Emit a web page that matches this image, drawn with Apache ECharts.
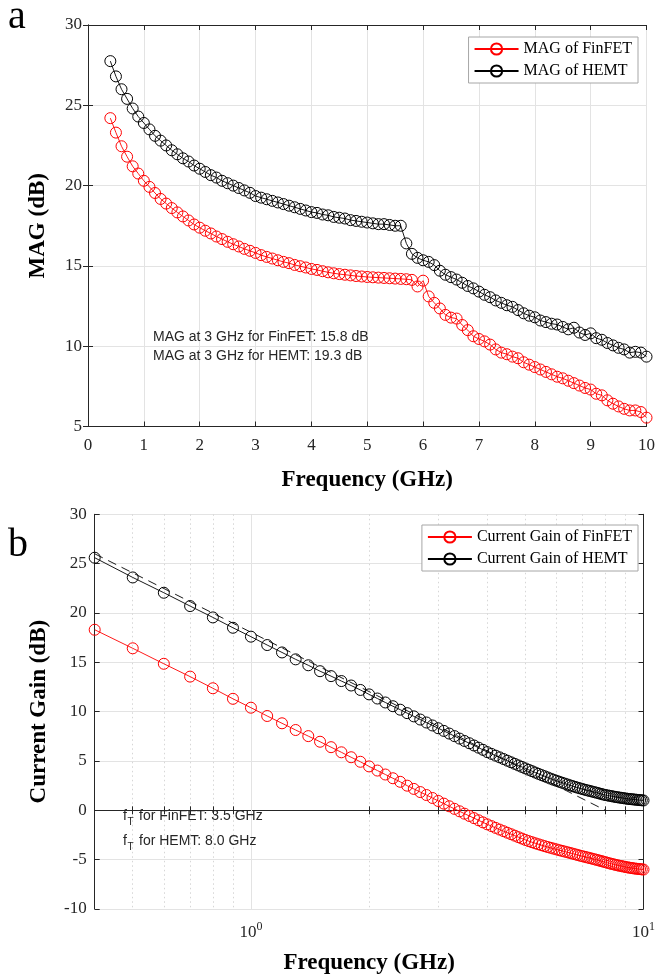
<!DOCTYPE html>
<html>
<head>
<meta charset="utf-8">
<script src="https://cdn.jsdelivr.net/npm/echarts@6/dist/echarts.min.js"></script>
<style>
html,body{margin:0;padding:0;background:#fff;}
#chart{width:658px;height:979px;}
</style>
</head>
<body>
<div id="chart"></div>
<script>
// Frequencies (GHz)
const freq = [
  0.4,0.5,0.6,0.7,0.8,0.9,1.0,1.1,1.2,1.3,
  1.4,1.5,1.6,1.7,1.8,1.9,2.0,2.1,2.2,2.3,
  2.4,2.5,2.6,2.7,2.8,2.9,3.0,3.1,3.2,3.3,
  3.4,3.5,3.6,3.7,3.8,3.9,4.0,4.1,4.2,4.3,
  4.4,4.5,4.6,4.7,4.8,4.9,5.0,5.1,5.2,5.3,
  5.4,5.5,5.6,5.7,5.8,5.9,6.0,6.1,6.2,6.3,
  6.4,6.5,6.6,6.7,6.8,6.9,7.0,7.1,7.2,7.3,
  7.4,7.5,7.6,7.7,7.8,7.9,8.0,8.1,8.2,8.3,
  8.4,8.5,8.6,8.7,8.8,8.9,9.0,9.1,9.2,9.3,
  9.4,9.5,9.6,9.7,9.8,9.9,10.0
];
// MAG (dB)
const magFinFET = [
  24.2,23.3,22.45,21.8,21.2,20.75,20.3,19.92,19.54,19.17,
  18.88,18.6,18.33,18.08,17.83,17.58,17.38,17.19,17.02,16.83,
  16.67,16.5,16.35,16.21,16.06,15.94,15.81,15.67,15.56,15.46,
  15.35,15.25,15.17,15.06,14.98,14.9,14.81,14.75,14.67,14.6,
  14.54,14.49,14.45,14.41,14.37,14.34,14.31,14.29,14.27,14.25,
  14.23,14.21,14.19,14.17,14.13,13.72,14.08,13.1,12.7,12.35,
  11.95,11.78,11.72,11.32,11.0,10.62,10.45,10.3,10.1,9.8,
  9.6,9.5,9.35,9.25,9.0,8.85,8.7,8.55,8.4,8.25,
  8.1,8.0,7.85,7.7,7.55,7.4,7.3,7.04,6.94,6.63,
  6.42,6.25,6.1,6.0,6.0,5.9,5.55
];
const magHEMT = [
  27.75,26.8,26.0,25.4,24.8,24.3,23.9,23.5,23.1,22.8,
  22.5,22.2,21.95,21.7,21.5,21.25,21.05,20.85,20.65,20.5,
  20.3,20.15,20.0,19.85,19.7,19.55,19.35,19.25,19.15,19.05,
  18.95,18.85,18.75,18.65,18.55,18.45,18.35,18.3,18.2,18.15,
  18.05,18.0,17.95,17.85,17.8,17.75,17.7,17.65,17.6,17.6,
  17.55,17.5,17.5,16.4,15.75,15.5,15.35,15.25,15.05,14.7,
  14.45,14.3,14.15,13.95,13.75,13.6,13.4,13.2,13.05,12.85,
  12.7,12.55,12.45,12.25,12.05,11.9,11.8,11.6,11.5,11.4,
  11.35,11.2,11.05,11.15,10.85,10.7,10.8,10.5,10.4,10.2,
  10.05,9.9,9.8,9.6,9.65,9.6,9.35
];
// Current gain (dB)
const cgFinFET = [
  18.3,16.42,14.85,13.55,12.37,11.3,10.4,9.56,8.82,8.14,
  7.52,6.95,6.4,5.88,5.38,4.92,4.45,4.03,3.63,3.25,
  2.89,2.5,2.17,1.85,1.55,1.25,0.95,0.68,0.41,0.15,
  -0.1,-0.34,-0.57,-0.79,-1.01,-1.22,-1.42,-1.6,-1.78,-1.95,
  -2.11,-2.27,-2.42,-2.57,-2.72,-2.86,-3.0,-3.12,-3.23,-3.34,
  -3.44,-3.54,-3.63,-3.72,-3.8,-3.88,-3.96,-4.04,-4.11,-4.18,
  -4.25,-4.32,-4.39,-4.46,-4.53,-4.6,-4.66,-4.72,-4.78,-4.84,
  -4.9,-4.96,-5.02,-5.08,-5.14,-5.2,-5.26,-5.32,-5.38,-5.43,
  -5.48,-5.53,-5.58,-5.62,-5.66,-5.7,-5.74,-5.78,-5.81,-5.84,
  -5.87,-5.9,-5.92,-5.94,-5.96,-5.98,-6.0
];
const cgHEMT = [
  25.6,23.6,22.05,20.7,19.55,18.5,17.6,16.75,16.0,15.3,
  14.7,14.1,13.6,13.1,12.65,12.2,11.75,11.33,10.93,10.55,
  10.2,9.85,9.52,9.2,8.9,8.6,8.32,8.05,7.78,7.52,
  7.27,7.03,6.8,6.57,6.35,6.13,5.9,5.72,5.54,5.37,
  5.2,5.03,4.87,4.71,4.55,4.4,4.25,4.11,3.97,3.83,
  3.7,3.57,3.45,3.33,3.21,3.1,3.0,2.9,2.8,2.71,
  2.62,2.53,2.45,2.37,2.29,2.22,2.15,2.08,2.02,1.96,
  1.9,1.84,1.78,1.72,1.66,1.6,1.55,1.51,1.47,1.43,
  1.39,1.35,1.32,1.29,1.26,1.23,1.2,1.17,1.15,1.13,
  1.11,1.09,1.07,1.05,1.03,1.02,1.0
];
// -20 dB/decade reference line for HEMT
const fitFreq = [0.4, 8.0];
const fitGain = [26.0, 0.0];
// log axis ticks
const logLabelTicks = [1, 10];
const logTicks = [0.5,0.6,0.7,0.8,0.9,1,2,3,4,5,6,7,8,9];

const SERIF = '"Liberation Serif","Times New Roman",serif';
const SANS = '"Liberation Sans",Arial,sans-serif';
const AX = '#262626';
const GRIDC = '#e3e3e3';

const pairs = (xs, ys) => xs.map((x, i) => [x, ys[i]]);

function baseAxis(extra) {
  return Object.assign({
    axisLine: {show: true, lineStyle: {color: AX, width: 1}},
    axisTick: {show: true, inside: true, length: 5, lineStyle: {color: AX, width: 1}},
    axisLabel: {show: false},
    splitLine: {show: false}
  }, extra);
}
const labelStyle = {show: true, fontFamily: SERIF, fontSize: 17, color: AX};
const nameStyle = {fontFamily: SERIF, fontWeight: 'bold', fontSize: 23, color: '#000'};

function markerSeries(name, data, color, xi, yi) {
  return {
    name: name, type: 'line', xAxisIndex: xi, yAxisIndex: yi,
    data: data, symbol: 'circle', symbolSize: 11, clip: false,
    lineStyle: {color: color, width: 0.9},
    itemStyle: {color: 'rgba(255,255,255,0)', borderColor: color, borderWidth: 1},
    emphasis: {disabled: true}
  };
}
function annot(x, y, text) {
  return {type: 'text', x: x, y: y, z: 10, style: {text: text, fontFamily: SANS, fontSize: 14, fill: '#262626', verticalAlign: 'middle'}};
}

const chart = echarts.init(document.getElementById('chart'), null, {renderer: 'canvas'});
const option = {
  animation: false,
  backgroundColor: '#fff',
  grid: [
    {left: 88, top: 25, width: 562, height: 401.5},
    {left: 94.7, top: 514.3, width: 554.6, height: 394.7}
  ],
  xAxis: [
    baseAxis({gridIndex: 0, type: 'value', min: 0, max: 10, interval: 1, position: 'bottom',
      axisLabel: Object.assign({margin: 11}, labelStyle),
      splitLine: {show: true, lineStyle: {color: GRIDC, width: 1}},
      name: 'Frequency (GHz)', nameLocation: 'middle', nameGap: 42, nameTextStyle: nameStyle}),
    baseAxis({gridIndex: 0, type: 'value', min: 0, max: 10, interval: 1, position: 'top'}),
    baseAxis({gridIndex: 1, type: 'log', logBase: 10, min: 0.4, max: 10, position: 'bottom',
      axisTick: {show: true, inside: true, length: 4, customValues: logTicks, lineStyle: {color: AX, width: 1}},
      axisLabel: Object.assign({}, labelStyle, {margin: 12, customValues: logLabelTicks,
        formatter: function (v) { return '10{s|' + Math.round(Math.log10(v)) + '}'; },
        rich: {s: {fontFamily: SERIF, fontSize: 12, color: AX, padding: [0, 0, 12, 0]}}}),
      splitLine: {show: true, lineStyle: {color: '#d6d6d6', width: 1, type: [1.5, 3]}},
      name: 'Frequency (GHz)', nameLocation: 'middle', nameGap: 43, nameTextStyle: nameStyle}),
    baseAxis({gridIndex: 1, type: 'log', logBase: 10, min: 0.4, max: 10, position: 'top',
      axisTick: {show: true, inside: true, length: 4, customValues: logTicks, lineStyle: {color: AX, width: 1}}})
  ],
  yAxis: [
    baseAxis({gridIndex: 0, type: 'value', min: 5, max: 30, interval: 5, position: 'left',
      axisLabel: Object.assign({margin: 6}, labelStyle),
      splitLine: {show: true, lineStyle: {color: GRIDC, width: 1}},
      name: 'MAG (dB)', nameLocation: 'middle', nameGap: 38, nameTextStyle: nameStyle}),
    baseAxis({gridIndex: 0, type: 'value', min: 5, max: 30, interval: 5, position: 'right'}),
    baseAxis({gridIndex: 1, type: 'value', min: -10, max: 30, interval: 5, position: 'left',
      axisLabel: Object.assign({margin: 8}, labelStyle),
      splitLine: {show: true, lineStyle: {color: GRIDC, width: 1}},
      name: 'Current Gain (dB)', nameLocation: 'middle', nameGap: 44, nameTextStyle: nameStyle}),
    baseAxis({gridIndex: 1, type: 'value', min: -10, max: 30, interval: 5, position: 'right'})
  ],
  legend: [
    {data: ['MAG of FinFET', 'MAG of HEMT'], orient: 'vertical', right: 20, top: 37,
      itemWidth: 44, itemHeight: 14, itemGap: 6, padding: [4, 6, 4, 5],
      backgroundColor: '#fff', borderColor: '#a6a6a6', borderWidth: 1, borderRadius: 0,
      textStyle: {fontFamily: SERIF, fontSize: 16, color: '#000'}},
    {data: ['Current Gain of FinFET', 'Current Gain of HEMT'], orient: 'vertical', right: 20, top: 525,
      itemWidth: 44, itemHeight: 14, itemGap: 6, padding: [4, 6, 4, 5],
      backgroundColor: '#fff', borderColor: '#a6a6a6', borderWidth: 1, borderRadius: 0,
      textStyle: {fontFamily: SERIF, fontSize: 16, color: '#000'}}
  ],
  series: [
    markerSeries('MAG of FinFET', pairs(freq, magFinFET), '#ff0000', 0, 0),
    markerSeries('MAG of HEMT', pairs(freq, magHEMT), '#000000', 0, 0),
    {
      name: 'fit', type: 'line', xAxisIndex: 2, yAxisIndex: 2, z: 1,
      data: pairs(fitFreq, fitGain), symbol: 'none', clip: false,
      lineStyle: {color: '#000', width: 0.9, type: [9, 6]},
      markLine: {silent: true, symbol: 'none', label: {show: false}, z: 1,
        lineStyle: {color: GRIDC, width: 1, type: 'solid'},
        data: [{xAxis: logLabelTicks[0]}]}
    },
    markerSeries('Current Gain of FinFET', pairs(freq, cgFinFET), '#ff0000', 2, 2),
    markerSeries('Current Gain of HEMT', pairs(freq, cgHEMT), '#000000', 2, 2)
  ],
  graphic: [
    {type: 'text', x: 8, y: 17, style: {text: 'a', fontFamily: SERIF, fontSize: 40, fill: '#000', verticalAlign: 'middle'}},
    {type: 'text', x: 8, y: 545, style: {text: 'b', fontFamily: SERIF, fontSize: 40, fill: '#000', verticalAlign: 'middle'}},
    annot(153, 337, 'MAG at 3 GHz for FinFET: 15.8 dB'),
    annot(153, 356, 'MAG at 3 GHz for HEMT: 19.3 dB'),
    annot(123, 816, 'f'),
    {type: 'text', x: 127.5, y: 822, z: 10, style: {text: 'T', fontFamily: SANS, fontSize: 10, fill: '#262626', verticalAlign: 'middle'}},
    annot(139, 816, 'for FinFET: 3.5 GHz'),
    annot(123, 841, 'f'),
    {type: 'text', x: 127.5, y: 847, z: 10, style: {text: 'T', fontFamily: SANS, fontSize: 10, fill: '#262626', verticalAlign: 'middle'}},
    annot(139, 841, 'for HEMT: 8.0 GHz')
  ]
};
chart.setOption(option);
</script>
</body>
</html>
